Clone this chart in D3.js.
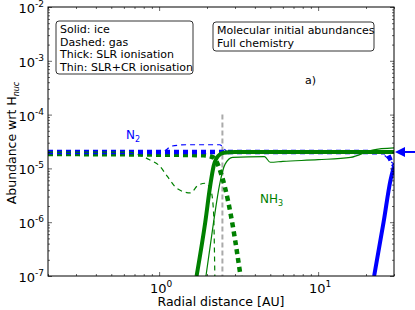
<!DOCTYPE html>
<html>
<head>
<meta charset="utf-8">
<script src="https://cdn.jsdelivr.net/npm/d3@7"></script>
<style>
  body { margin: 0; background: white; }
  text { font-family: "DejaVu Sans", sans-serif; }
</style>
</head>
<body>
<div id="chart"></div>
<script>

// data: [radius AU, abundance]
const nh3GasThick = [[0.2, 1.85e-5], [1, 1.8e-5], [1.9, 1.75e-5], [2.19, 1.6e-5], [2.49, 6.9e-6], [2.72, 2.4e-6], [2.92, 7.8e-7], [3.25, 1e-7]];
const n2GasThick = [[0.2, 2.02e-5], [1, 2.02e-5], [10, 2.02e-5], [26, 2.0e-5], [27.5, 1.8e-5], [28.8, 1.35e-5], [30, 1.15e-5]];
const n2GasThin = [[0.2, 2.02e-5], [1.05, 2.02e-5], [1.2, 2.6e-5], [1.5, 2.75e-5], [2.4, 2.75e-5], [2.7, 2.05e-5], [20, 2.0e-5], [25, 1.9e-5], [27, 1.6e-5], [29, 1.3e-5], [30, 1.2e-5]];
const nh3GasThin = [[0.2, 2e-5], [0.65, 2e-5], [0.76, 1.75e-5], [0.87, 1.45e-5], [1.01, 1.1e-5], [1.13, 7e-6], [1.3, 4.2e-6], [1.57, 3.5e-6], [1.75, 4.8e-6], [1.95, 5.3e-6], [2.12, 3.8e-6], [2.2, 1.5e-6], [2.24, 1e-7]];
const nh3IceThick = [[1.72, 1e-7], [1.95, 1e-6], [2.1, 5e-6], [2.2, 1.1e-5], [2.35, 1.7e-5], [2.55, 1.95e-5], [3, 2.02e-5], [30, 2.02e-5]];
const nh3IceThin = [[1.97, 1e-7], [2.2, 1e-6], [2.4, 5e-6], [2.6, 1.2e-5], [2.9, 1.6e-5], [4.6, 1.65e-5], [5.0, 1.3e-5], [6, 1.35e-5], [10, 1.45e-5], [16, 1.6e-5], [22, 2.2e-5], [30, 2.4e-5]];
const n2IceThick = [[22.5, 1e-7], [25.8, 1e-6], [28.5, 6e-6], [30, 1.1e-5]];

const iceLine = 2.5;
const yMajor = [-7, -6, -5, -4, -3, -2];
const xMajor = [0, 1];
const legendLines = ["Solid: ice", "Dashed: gas", "Thick: SLR ionisation", "Thin: SLR+CR ionisation"];
const infoLines = ["Molecular initial abundances", "Full chemistry"];

const dimensions = {
    width: 415,
    height: 310,
    margin: { top: 7, right: 21, bottom: 34, left: 48 },
};
dimensions.boundedWidth = dimensions.width - dimensions.margin.left - dimensions.margin.right;
dimensions.boundedHeight = dimensions.height - dimensions.margin.top - dimensions.margin.bottom;

const blue = "#0000ff";
const green = "#008000";

const svg = d3.select("#chart")
    .append("svg")
    .attr("width", dimensions.width)
    .attr("height", dimensions.height);

const x = d3.scaleLog().domain([0.2, 30]).range([0, dimensions.boundedWidth]);
const y = d3.scaleLog().domain([1e-7, 1e-2]).range([dimensions.boundedHeight, 0]);

svg.append("defs").append("clipPath").attr("id", "clip")
    .append("rect")
    .attr("width", dimensions.boundedWidth)
    .attr("height", dimensions.boundedHeight);

const bounds = svg.append("g")
    .attr("transform", `translate(${dimensions.margin.left},${dimensions.margin.top})`);

const plot = bounds.append("g").attr("clip-path", "url(#clip)");

// ice line
plot.append("line")
    .attr("x1", x(iceLine)).attr("x2", x(iceLine))
    .attr("y1", y(1e-4)).attr("y2", dimensions.boundedHeight)
    .attr("stroke", "#aaaaaa")
    .attr("stroke-width", 2)
    .attr("stroke-dasharray", "5,3");

const line = d3.line()
    .x(d => x(d[0]))
    .y(d => y(d[1]))
    .curve(d3.curveMonotoneX);

const curves = [
    { data: nh3GasThick, color: green, width: 4.5, dash: "5,4" },
    { data: n2GasThick, color: blue, width: 4.5, dash: "5,4" },
    { data: n2GasThin, color: blue, width: 1.2, dash: "5,4" },
    { data: nh3GasThin, color: green, width: 1.2, dash: "5,4" },
    { data: nh3IceThick, color: green, width: 4, dash: null },
    { data: nh3IceThin, color: green, width: 1.2, dash: null },
    { data: n2IceThick, color: blue, width: 4, dash: null },
];

plot.selectAll("path.curve")
    .data(curves)
    .join("path")
    .attr("class", "curve")
    .attr("d", d => line(d.data))
    .attr("fill", "none")
    .attr("stroke", d => d.color)
    .attr("stroke-width", d => d.width)
    .attr("stroke-dasharray", d => d.dash);

// axes, ticks inward on all four sides
const xMinor = [];
const yMinor = [];
for (let e = -1; e <= 1; e++) for (let m = 1; m < 10; m++) {
    const v = m * Math.pow(10, e);
    if (v >= 0.2 && v <= 30 && m !== 1) xMinor.push(v);
}
for (let e = -7; e < -2; e++) for (let m = 2; m < 10; m++) yMinor.push(m * Math.pow(10, e));

function drawAxis(axis, transform, major, minor) {
    const gMaj = bounds.append("g").attr("transform", transform)
        .call(axis.tickValues(major).tickSize(-4).tickFormat(""));
    const gMin = bounds.append("g").attr("transform", transform)
        .call(axis.tickValues(minor).tickSize(-2).tickFormat(""));
    [gMaj, gMin].forEach(g => {
        g.select(".domain").remove();
        g.selectAll("line").attr("stroke", "#000").attr("stroke-width", 0.6);
    });
}

drawAxis(d3.axisBottom(x), `translate(0,${dimensions.boundedHeight})`, xMajor.map(e => Math.pow(10, e)), xMinor);
drawAxis(d3.axisTop(x), "translate(0,0)", xMajor.map(e => Math.pow(10, e)), xMinor);
drawAxis(d3.axisLeft(y), "translate(0,0)", yMajor.map(e => Math.pow(10, e)), yMinor);
drawAxis(d3.axisRight(y), `translate(${dimensions.boundedWidth},0)`, yMajor.map(e => Math.pow(10, e)), yMinor);

bounds.append("rect")
    .attr("width", dimensions.boundedWidth)
    .attr("height", dimensions.boundedHeight)
    .attr("fill", "none")
    .attr("stroke", "#000")
    .attr("stroke-width", 1);

// tick labels
bounds.selectAll("text.ylab")
    .data(yMajor)
    .join("text")
    .attr("class", "ylab")
    .attr("x", -4)
    .attr("y", d => y(Math.pow(10, d)) + 6)
    .attr("text-anchor", "end")
    .style("font-size", "13px")
    .each(function(d) {
        const t = d3.select(this);
        t.append("tspan").text("10");
        t.append("tspan").attr("dy", -6).style("font-size", "9px").text(d);
    });

bounds.selectAll("text.xlab")
    .data(xMajor)
    .join("text")
    .attr("class", "xlab")
    .attr("x", d => x(Math.pow(10, d)) + 2)
    .attr("y", dimensions.boundedHeight + 17)
    .attr("text-anchor", "middle")
    .style("font-size", "13px")
    .each(function(d) {
        const t = d3.select(this);
        t.append("tspan").text("10");
        t.append("tspan").attr("dy", -6).style("font-size", "9px").text(d);
    });

// axis titles
svg.append("text")
    .attr("x", dimensions.margin.left + dimensions.boundedWidth / 2)
    .attr("y", 306)
    .attr("text-anchor", "middle")
    .style("font-size", "12.5px")
    .text("Radial distance [AU]");

const yTitle = svg.append("text")
    .attr("transform", `translate(16,${dimensions.margin.top + 136}) rotate(-90)`)
    .attr("text-anchor", "middle")
    .style("font-size", "12.5px");
yTitle.append("tspan").text("Abundance wrt H");
yTitle.append("tspan").attr("dy", 3).style("font-size", "8px").style("font-style", "italic").text("nuc");

// legend boxes
function textBox(lines, bx, by, bw, bh) {
    bounds.append("rect")
        .attr("x", bx).attr("y", by)
        .attr("width", bw).attr("height", bh)
        .attr("rx", 3)
        .attr("fill", "white")
        .attr("stroke", "#000")
        .attr("stroke-width", 0.8);
    bounds.selectAll(null)
        .data(lines)
        .join("text")
        .attr("x", bx + 4)
        .attr("y", (d, i) => by + 12 + i * 12.6)
        .style("font-size", "11px")
        .text(d => d);
}
textBox(legendLines, 8, 14, 137, 53);
textBox(infoLines, 165, 15, 161, 29);

bounds.append("text")
    .attr("x", 257).attr("y", 77)
    .style("font-size", "11px")
    .text("a)");

// species labels
const n2Label = bounds.append("text")
    .attr("x", 78).attr("y", 132)
    .attr("fill", blue)
    .style("font-size", "12px");
n2Label.append("tspan").text("N");
n2Label.append("tspan").attr("dy", 3).style("font-size", "8px").text("2");

const nh3Label = bounds.append("text")
    .attr("x", 212).attr("y", 196)
    .attr("fill", green)
    .style("font-size", "12px");
nh3Label.append("tspan").text("NH");
nh3Label.append("tspan").attr("dy", 3).style("font-size", "8px").text("3");

// arrow at the outer edge
const ay = y(2.02e-5);
svg.append("line")
    .attr("x1", dimensions.width).attr("x2", dimensions.margin.left + dimensions.boundedWidth + 8)
    .attr("y1", dimensions.margin.top + ay).attr("y2", dimensions.margin.top + ay)
    .attr("stroke", blue).attr("stroke-width", 2);
svg.append("path")
    .attr("d", d3.line()([
        [dimensions.margin.left + dimensions.boundedWidth + 1, dimensions.margin.top + ay],
        [dimensions.margin.left + dimensions.boundedWidth + 11, dimensions.margin.top + ay - 5],
        [dimensions.margin.left + dimensions.boundedWidth + 11, dimensions.margin.top + ay + 5]
    ]) + "Z")
    .attr("fill", blue);

</script>
</body>
</html>
